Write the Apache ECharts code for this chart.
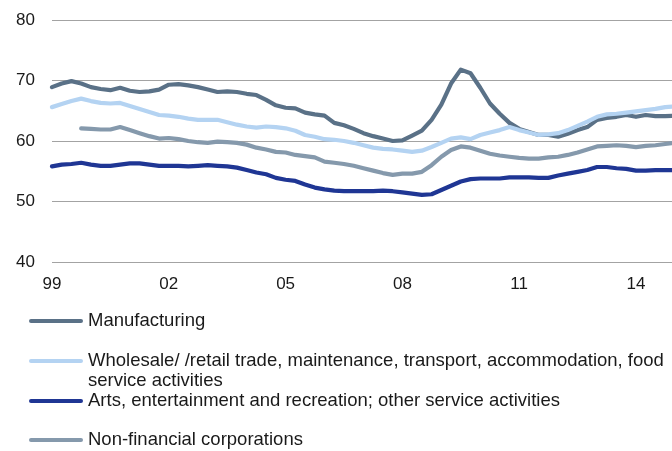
<!DOCTYPE html>
<html>
<head>
<meta charset="utf-8">
<script src="https://cdn.jsdelivr.net/npm/echarts@6/dist/echarts.min.js"></script>
<style>
  html, body { margin: 0; padding: 0; background: #fff; }
  #chart { width: 672px; height: 451px; }
</style>
</head>
<body>
<div id="chart"></div>
<script>
// Quarterly series, first quarter of 1999 = index 0
const yearLabels = ['99', '02', '05', '08', '11', '14'];

const manufacturing = [
  68.9, 69.5, 69.9, 69.5, 68.9, 68.6, 68.4, 68.8, 68.3, 68.1,
  68.2, 68.5, 69.3, 69.4, 69.2, 68.9, 68.5, 68.1, 68.2, 68.1,
  67.8, 67.6, 66.8, 65.9, 65.5, 65.4, 64.7, 64.4, 64.2, 63.0,
  62.6, 62.0, 61.3, 60.8, 60.4, 60.0, 60.1, 60.9, 61.7, 63.5,
  66.0, 69.5, 71.8, 71.2, 68.8, 66.2, 64.5, 63.0, 62.0, 61.5,
  61.0, 61.0, 60.7, 61.2, 61.8, 62.3, 63.5, 63.8, 64.0, 64.3,
  64.0, 64.3, 64.1, 64.1, 64.2
];

const wholesale = [
  65.6, 66.1, 66.6, 67.0, 66.6, 66.3, 66.2, 66.3, 65.8, 65.3,
  64.8, 64.3, 64.2, 64.0, 63.7, 63.5, 63.5, 63.5, 63.1, 62.7,
  62.4, 62.2, 62.4, 62.3, 62.1, 61.7, 61.0, 60.7, 60.3, 60.2,
  60.0, 59.7, 59.3, 58.9, 58.7, 58.6, 58.4, 58.2, 58.4, 59.0,
  59.7, 60.4, 60.6, 60.3, 61.0, 61.4, 61.8, 62.3, 61.8, 61.4,
  61.0, 61.1, 61.3, 61.8, 62.5, 63.2, 64.0, 64.4, 64.5, 64.7,
  64.9, 65.1, 65.3, 65.6, 65.7
];

const arts = [
  55.8, 56.1, 56.2, 56.4, 56.1, 55.9, 55.9, 56.1, 56.3, 56.3,
  56.1, 55.9, 55.9, 55.9, 55.8, 55.9, 56.0, 55.9, 55.8, 55.6,
  55.2, 54.8, 54.5, 53.9, 53.6, 53.4, 52.8, 52.3, 52.0, 51.8,
  51.7, 51.7, 51.7, 51.7, 51.8, 51.7, 51.5, 51.3, 51.1, 51.2,
  51.9, 52.6, 53.3, 53.7, 53.8, 53.8, 53.8, 54.0, 54.0, 54.0,
  53.9, 53.9, 54.3, 54.6, 54.9, 55.2, 55.7, 55.7, 55.5, 55.4,
  55.1, 55.1, 55.2, 55.2, 55.2
];

// Non-financial corporations begin in the fourth quarter of 1999 (index 3)
const nonFinancialStart = 3;
const nonFinancial = [
  62.1, 62.0, 61.9, 61.9, 62.3, 61.8, 61.3,
  60.8, 60.4, 60.5, 60.3, 60.0, 59.8, 59.7, 59.9, 59.8, 59.7,
  59.4, 58.9, 58.6, 58.2, 58.1, 57.7, 57.5, 57.3, 56.6, 56.4,
  56.2, 55.9, 55.5, 55.1, 54.7, 54.4, 54.6, 54.6, 54.9, 56.0,
  57.4, 58.5, 59.1, 58.9, 58.4, 57.9, 57.6, 57.4, 57.2, 57.1,
  57.1, 57.3, 57.4, 57.7, 58.1, 58.6, 59.1, 59.2, 59.3, 59.2,
  59.0, 59.2, 59.3, 59.5, 59.7
];

const seriesNames = [
  'Manufacturing',
  'Wholesale/ /retail trade, maintenance, transport, accommodation, food service activities',
  'Arts, entertainment and recreation; other service activities',
  'Non-financial corporations'
];
const seriesColors = ['#5a7187', '#b4d3f2', '#1f3694', '#8599ac'];

function toPoints(values, start) {
  return values.map((v, i) => [start + i, v]);
}

const seriesData = [
  toPoints(manufacturing, 0),
  toPoints(wholesale, 0),
  toPoints(arts, 0),
  toPoints(nonFinancial, nonFinancialStart)
];

const FONT = '"Liberation Sans", Arial, sans-serif';
const capsule = 'path://M2,0 H52 A2,2 0 0 1 52,4 H2 A2,2 0 0 1 2,0 Z';

// The long label wraps onto two lines; a leading empty line keeps the
// swatch level with the first line of text.
function legendLabel(n) {
  if (n.indexOf(', food service') >= 0) {
    return '\n' + n.replace(', food service', ', food\nservice');
  }
  return n;
}

const legendTops = [311, 331, 391, 430];

const chart = echarts.init(document.getElementById('chart'), null, { renderer: 'canvas' });

chart.setOption({
  animation: false,
  backgroundColor: '#ffffff',
  grid: { left: 52, right: 0, top: 20, bottom: 189, containLabel: false },
  xAxis: {
    type: 'value',
    min: 0,
    max: 63.7,
    interval: 12,
    axisLine: { show: false },
    axisTick: { show: false },
    splitLine: { show: false },
    axisLabel: {
      margin: 14,
      fontFamily: FONT,
      fontSize: 17,
      color: '#1a1a1a',
      showMaxLabel: false,
      formatter: function (v) {
        return (v % 12 === 0) ? (yearLabels[v / 12] || '') : '';
      }
    }
  },
  yAxis: {
    type: 'value',
    min: 40,
    max: 80,
    interval: 10,
    axisLine: { show: false },
    axisTick: { show: false },
    axisLabel: {
      margin: 17,
      fontFamily: FONT,
      fontSize: 17,
      color: '#1a1a1a'
    },
    splitLine: { lineStyle: { color: '#a3a3a3', width: 1 } }
  },
  legend: seriesNames.map((name, i) => ({
    data: [name],
    left: 29,
    top: legendTops[i],
    padding: 0,
    orient: 'vertical',
    icon: capsule,
    itemWidth: 54,
    itemHeight: 4.5,
    selectedMode: false,
    formatter: legendLabel,
    textStyle: {
      fontFamily: FONT,
      fontSize: 18.5,
      color: '#1a1a1a',
      lineHeight: 20
    }
  })),
  series: seriesNames.map((name, i) => ({
    name: name,
    type: 'line',
    data: seriesData[i],
    showSymbol: false,
    symbol: 'none',
    smooth: false,
    clip: true,
    color: seriesColors[i],
    lineStyle: { width: 4.2, color: seriesColors[i], cap: 'round', join: 'round' }
  }))
});
</script>
</body>
</html>
